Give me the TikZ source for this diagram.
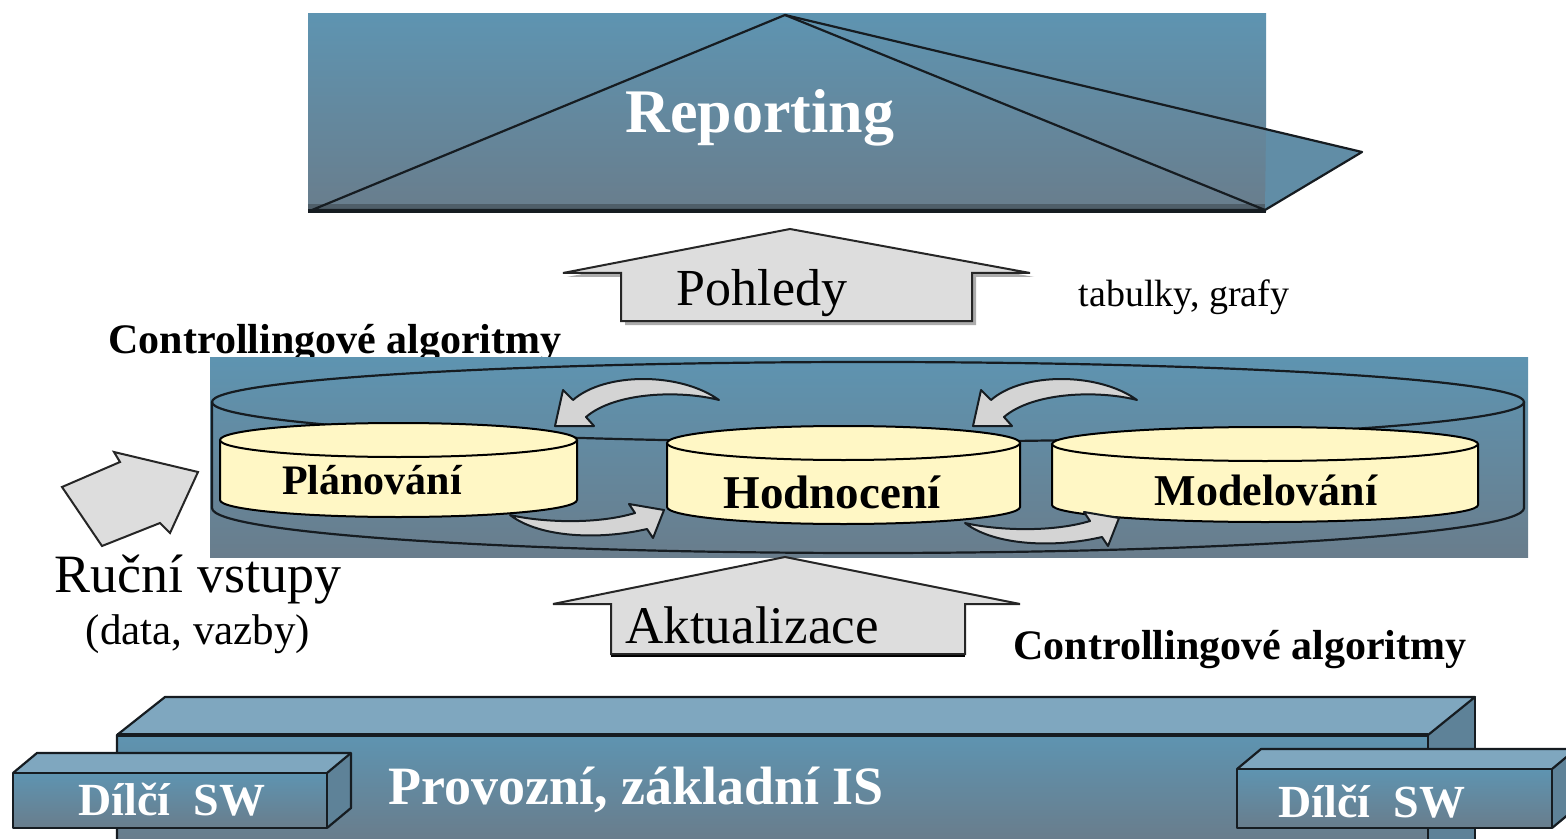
\documentclass[tikz,border=0pt]{standalone}
\usepackage{fontspec}
\setmainfont{Liberation Serif}
\definecolor{steelTop}{RGB}{94,148,177}
\definecolor{steelBot}{RGB}{105,125,140}
\definecolor{faceTop}{RGB}{127,167,191}
\definecolor{sideFace}{RGB}{94,130,152}
\definecolor{drumFill}{RGB}{255,247,197}
\definecolor{arrowGrey}{RGB}{221,221,221}
\definecolor{curveGrey}{RGB}{212,212,212}
\definecolor{inkLine}{RGB}{22,28,33}
\begin{document}
\begin{tikzpicture}[x=0.5pt,y=-0.5pt,
  panel/.style={top color=steelTop,bottom color=steelBot,draw=none},
  edge/.style={draw=inkLine,line width=1.1pt,line join=round},
  blockarrow/.style={fill=arrowGrey,draw=black!85,line width=1pt,line join=miter},
  bendarrow/.style={fill=curveGrey,draw=inkLine,line width=1pt,line join=round},
  drum/.style={fill=drumFill,draw=black,line width=1pt},
  whitelabel/.style={text=white,font=\bfseries\fontsize{#1}{#1}\selectfont,inner sep=0pt},
  darklabel/.style={text=black,font=\bfseries\fontsize{#1}{#1}\selectfont,inner sep=0pt},
  plainlabel/.style={text=black,font=\fontsize{#1}{#1}\selectfont,inner sep=0pt}]
\useasboundingbox (0,0) rectangle (1566,839);
\clip (0,0) rectangle (1566,839);
\fill[white] (0,0) rectangle (1566,839);

% ---------- Reporting panel ----------
\fill[panel] (308,14) rectangle (1266,212);
\fill[steelBot!75!black] (308,204) rectangle (1266,211);
\fill[steelTop!70!steelBot] (1266,129) -- (1362,152) -- (1265,210) -- cycle;
\draw[edge] (785,15) -- (312,210) -- (1265,210) -- cycle;
\draw[edge] (785,15) -- (1362,152) -- (1265,210);
\draw[inkLine,line width=1.6pt] (308,211) -- (1266,211);
\node[whitelabel=31] (reporting) at (760,118) {Reporting};

% ---------- Pohledy arrow ----------
\fill[gray!65] (794,233) -- (1034,277) -- (976,277) -- (976,325) -- (625,325) -- (625,277) -- (567,277) -- cycle;
\draw[blockarrow] (790,229) -- (1030,273) -- (972,273) -- (972,321) -- (621,321) -- (621,273) -- (563,273) -- cycle;
\node[plainlabel=26] (pohledy) at (762,293) {Pohledy};
\node[plainlabel=19] (tabulky) at (1184,297) {tabulky, grafy};

\node[darklabel=21] (ctrltop) at (335,344) {Controllingové algoritmy};

% ---------- middle band with the ring ----------
\fill[panel] (210,357) rectangle (1528,557);
\draw[edge] (868,402) ellipse[x radius=328pt,y radius=20pt];
\draw[edge] (212,402) -- (212,508) arc[start angle=180,end angle=360,x radius=328pt,y radius=22.5pt] -- (1524,402);

% drum: Planovani
\fill[drumFill] (220,440) -- (220,500) arc[start angle=180,end angle=360,x radius=89.25pt,y radius=8.5pt] -- (577,440) -- cycle;
\draw[drum,fill=none] (220,440) -- (220,500) arc[start angle=180,end angle=360,x radius=89.25pt,y radius=8.5pt] -- (577,440);
\draw[drum] (398.5,440) ellipse[x radius=89.25pt,y radius=8.5pt];
% drum: Hodnoceni
\fill[drumFill] (667,443) -- (667,507) arc[start angle=180,end angle=360,x radius=88.25pt,y radius=8.5pt] -- (1020,443) -- cycle;
\draw[drum,fill=none] (667,443) -- (667,507) arc[start angle=180,end angle=360,x radius=88.25pt,y radius=8.5pt] -- (1020,443);
\draw[drum] (843.5,443) ellipse[x radius=88.25pt,y radius=8.5pt];
% drum: Modelovani
\fill[drumFill] (1052,444) -- (1052,505) arc[start angle=180,end angle=360,x radius=106.5pt,y radius=8.5pt] -- (1478,444) -- cycle;
\draw[drum,fill=none] (1052,444) -- (1052,505) arc[start angle=180,end angle=360,x radius=106.5pt,y radius=8.5pt] -- (1478,444);
\draw[drum] (1265,444) ellipse[x radius=106.5pt,y radius=8.5pt];

\node[darklabel=21] (planovani) at (372,480) {Plánování};
\node[darklabel=23.5] (hodnoceni) at (832,492) {Hodnocení};
\node[darklabel=22] (modelovani) at (1266,490) {Modelování};

% curved feedback arrows
\draw[bendarrow] (719,400) .. controls (680,372) and (605,372) .. (573,400) -- (563,390) -- (555,426) -- (594,426) -- (586,417) .. controls (615,392) and (680,390) .. (719,400) -- cycle;
\begin{scope}[shift={(418,0)}]
\draw[bendarrow] (719,400) .. controls (680,372) and (605,372) .. (573,400) -- (563,390) -- (555,426) -- (594,426) -- (586,417) .. controls (615,392) and (680,390) .. (719,400) -- cycle;
\end{scope}
\draw[bendarrow] (510,515) .. controls (540,538) and (600,540) .. (647,529) -- (653,538) -- (664,510) -- (629,504) -- (635,513) .. controls (595,525) and (540,522) .. (510,515) -- cycle;
\begin{scope}[shift={(455,8)}]
\draw[bendarrow] (510,515) .. controls (540,538) and (600,540) .. (647,529) -- (653,538) -- (664,510) -- (629,504) -- (635,513) .. controls (595,525) and (540,522) .. (510,515) -- cycle;
\end{scope}

% ---------- manual input arrow ----------
\draw[blockarrow] (62,487) -- (120,462) -- (114,452) -- (198,472) -- (170,533) -- (160,523) -- (102,546) -- cycle;
\node[plainlabel=27] (rucni) at (198,580) {Ruční vstupy};
\node[plainlabel=21.5] (vazby) at (198,634) {(data, vazby)};

% ---------- Aktualizace arrow ----------
\fill[black] (611,654) rectangle (965,657);
\draw[blockarrow] (785,557) -- (1020,604) -- (965,604) -- (965,654) -- (611,654) -- (611,604) -- (553,604) -- cycle;
\node[plainlabel=26.5] (aktualizace) at (752,625) {Aktualizace};
\node[darklabel=21] (ctrlbottom) at (1240,650) {Controllingové algoritmy};

% ---------- base system block ----------
\fill[faceTop] (117,735) -- (165,697) -- (1475,697) -- (1428,735) -- cycle;
\fill[sideFace] (1428,735) -- (1475,697) -- (1475,839) -- (1428,839) -- cycle;
\fill[panel] (117,735) rectangle (1428,839);
\draw[edge] (117,839) -- (117,735) -- (165,697) -- (1475,697) -- (1428,735) -- (117,735);
\draw[edge] (1428,839) -- (1428,735);
\draw[edge] (1475,697) -- (1475,839);
\draw[inkLine,line width=1.6pt] (117,735) -- (1428,735);
\node[whitelabel=27] (provozni) at (636,790) {Provozní, základní IS};

% left module
\fill[faceTop] (13,773) -- (37,753) -- (351,753) -- (327,773) -- cycle;
\fill[sideFace] (327,773) -- (351,753) -- (351,808) -- (327,828) -- cycle;
\fill[panel] (13,773) rectangle (327,828);
\draw[edge] (13,773) -- (37,753) -- (351,753) -- (351,808) -- (327,828);
\draw[edge] (13,773) rectangle (327,828);
\draw[edge] (327,773) -- (351,753);
\node[whitelabel=23] (dilciA) at (172,800) {Dílčí\ \ SW};

% right module
\fill[faceTop] (1237,769) -- (1261,749) -- (1576,749) -- (1552,769) -- cycle;
\fill[sideFace] (1552,769) -- (1576,749) -- (1576,810) -- (1552,828) -- cycle;
\fill[panel] (1237,769) rectangle (1552,828);
\draw[edge] (1237,769) -- (1261,749) -- (1576,749);
\draw[edge] (1237,769) rectangle (1552,828);
\draw[edge] (1552,769) -- (1576,749);
\draw[edge] (1552,828) -- (1576,808);
\node[whitelabel=23] (dilciB) at (1372,802) {Dílčí\ \ SW};
\end{tikzpicture}
\end{document}
